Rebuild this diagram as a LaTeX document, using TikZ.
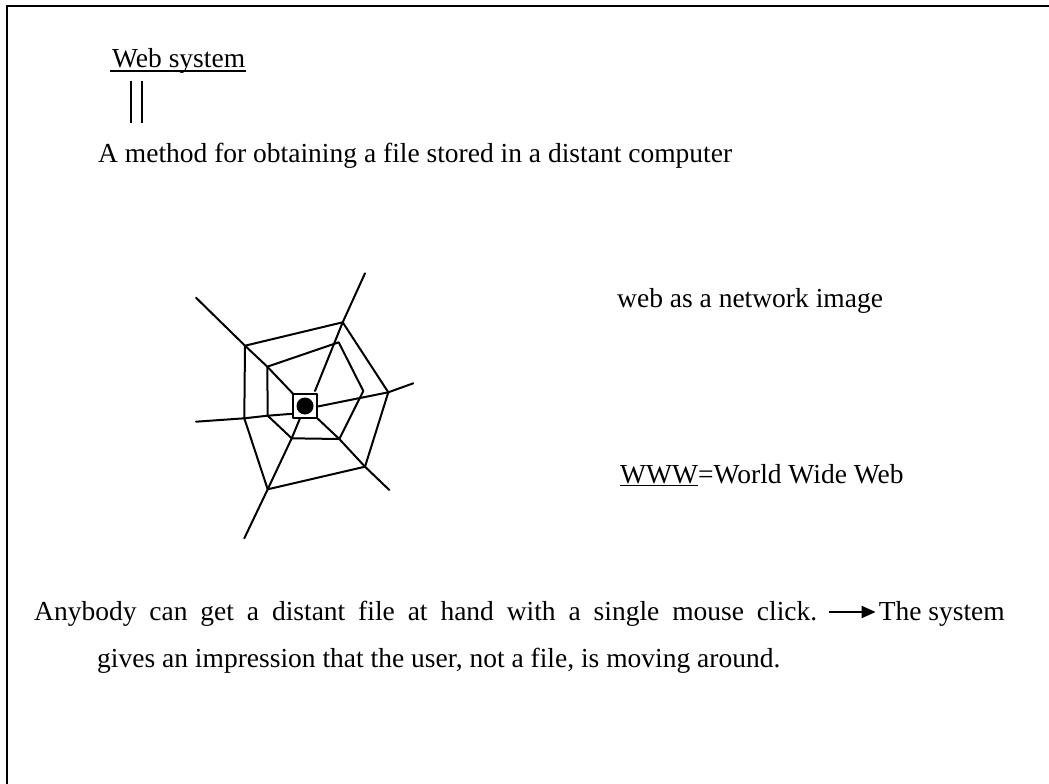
\documentclass[tikz,border=0pt]{standalone}
\usepackage{fontspec}
\setmainfont{Liberation Serif}
\usetikzlibrary{arrows.meta,calc}
\begin{document}
\begin{tikzpicture}[x=1pt,y=-1pt,
  txt/.style={font=\fontsize{27.5}{33}\selectfont, inner sep=0pt, anchor=base west},
  web/.style={line width=2pt, line join=round, line cap=round}]
\useasboundingbox (0,0) rectangle (1049,784);
\draw[line width=2pt] (7,784) -- (7,6) -- (1049,6);

% texts
\node[txt] (ws) at (112,67) {Web system};
\draw[line width=1.5pt] ($(ws.base west)+(-2,4)$) -- ($(ws.base east)+(1,4)$);
\coordinate (b1t) at (131,81); \coordinate (b1b) at (131,123);
\coordinate (b2t) at (142,81); \coordinate (b2b) at (142,123);
\draw[line width=1.4pt] (b1t) -- (b1b) (b2t) -- (b2b);
\node[txt] (m) at (98,162) {A method for obtaining a file stored in a distant computer};
\node[txt] (net) at (617,307) {web as a network image};
\node[txt] (www) at (620,483) {\underline{WWW}=World Wide Web};
\node[txt] (l1) at (34,620) {\makebox[783pt][s]{Anybody can get a distant file at hand with a single mouse click.}};
\node[txt, anchor=base east] (l1b) at (1005,620) {The system};
\draw[line width=2pt,-{Triangle[length=14pt,width=12pt]}] ($(l1.base east)+(12,-8)$) -- ($(l1b.base west)+(-3,-8)$);
\node[txt] (l2) at (97,667) {gives an impression that the user, not a file, is moving around.};

% spider web
\begin{scope}[web]
% spokes
\draw (196,297.7) -- (245,345.7) -- (267.3,366.7) -- (293.3,394);
\draw (365,273.3) -- (342.7,322.3) -- (315,391);
\draw (413.3,383.3) -- (388.3,392.3) -- (316.7,406.7);
\draw (196,421.7) -- (244.3,418.3) -- (267.7,415.7) -- (293.3,413.7);
\draw (389.3,490) -- (365,466.7) -- (339.3,439) -- (316.7,417.7);
\draw (244.3,538.3) -- (267.7,489.3) -- (291.7,438.3) -- (300,418.3);
% outer ring
\draw (245,345.7) -- (342.7,322.3) -- (388.3,392.3) -- (365,466.7) -- (267.7,489.3) -- (244.3,418.3) -- cycle;
% inner ring
\draw (267.3,366.7) -- (338.7,342.3) -- (363.3,391) -- (339.3,439) -- (291.7,438.3) -- (267.7,415.7) -- cycle;
% centre
\draw (293.3,394.3) rectangle (316.7,417.7);
\fill (305,406) circle (8.5);
\end{scope}
\end{tikzpicture}
\end{document}
